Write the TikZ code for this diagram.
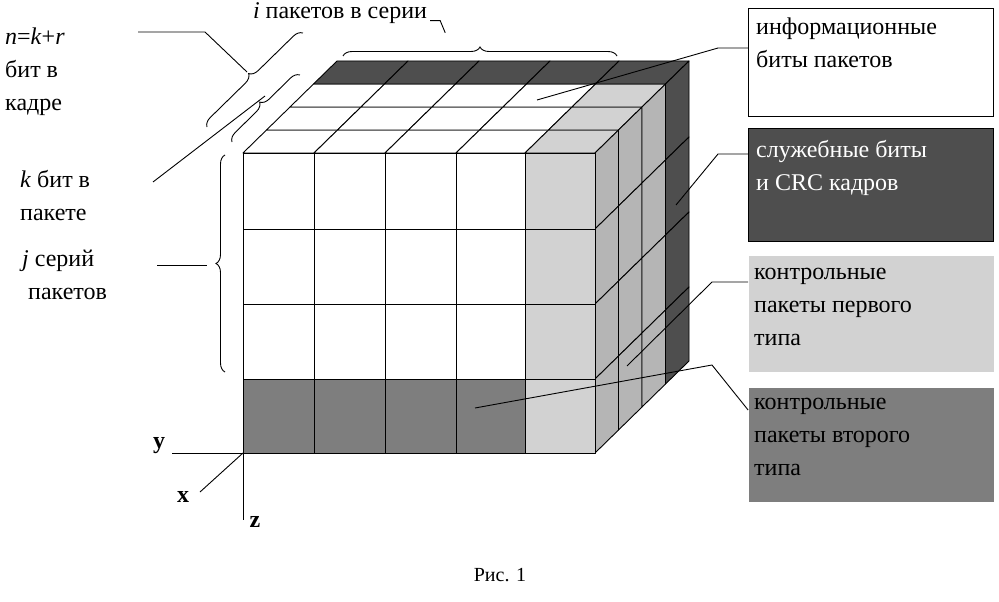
\documentclass[tikz,border=0pt]{standalone}
\usepackage{fontspec}
\setmainfont{Liberation Serif}
\usetikzlibrary{decorations.pathreplacing}
\definecolor{lg}{HTML}{D2D2D2}
\definecolor{mg}{HTML}{B5B5B5}
\definecolor{dg}{HTML}{4E4E4E}
\definecolor{bg}{HTML}{7E7E7E}
\tikzset{
  cell/.style={draw=black,line width=0.9pt,line join=round},
  lead/.style={draw=black,line width=0.9pt},
  legbox/.style={draw=black,line width=0.8pt,minimum width=245pt,minimum height=108pt,inner sep=0pt},
  legtxt/.style={font=\fontsize{24}{33}\selectfont,align=left,anchor=north west,inner sep=0pt},
  lbl/.style={font=\fontsize{24}{33}\selectfont,align=left,anchor=north west,inner sep=0pt},
  brc/.style={decorate,decoration={brace,amplitude=9pt},line width=0.9pt},
}
\begin{document}
\begin{tikzpicture}[x=1pt,y=-1pt]
\useasboundingbox (0,0) rectangle (999,602);
\def\dx{23.5}\def\dy{-23}
% top face
\foreach \l in {0,1,2,3}{
 \foreach \c/\xa/\xb in {0/243/314,1/314/385,2/385/456,3/456/525,4/525/595}{
  \pgfmathsetmacro\ox{\l*\dx}\pgfmathsetmacro\oy{\l*\dy}
  \pgfmathsetmacro\px{(\l+1)*\dx}\pgfmathsetmacro\py{(\l+1)*\dy}
  \ifnum\l=3 \def\fc{dg}\else\ifnum\c=4 \def\fc{lg}\else\def\fc{white}\fi\fi
  \filldraw[cell,fill=\fc] (\xa+\ox,153+\oy) -- (\xb+\ox,153+\oy) -- (\xb+\px,153+\py) -- (\xa+\px,153+\py) -- cycle;
 }}
% right face
\foreach \l in {0,1,2,3}{
 \foreach \ya/\yb in {153/229,229/304,304/379,379/453}{
  \pgfmathsetmacro\ox{\l*\dx}\pgfmathsetmacro\oy{\l*\dy}
  \pgfmathsetmacro\px{(\l+1)*\dx}\pgfmathsetmacro\py{(\l+1)*\dy}
  \ifnum\l=3 \def\fc{dg}\else\def\fc{mg}\fi
  \filldraw[cell,fill=\fc] (595+\ox,\ya+\oy) -- (595+\px,\ya+\py) -- (595+\px,\yb+\py) -- (595+\ox,\yb+\oy) -- cycle;
 }}
% front face
\foreach \c/\xa/\xb in {0/243/314,1/314/385,2/385/456,3/456/525,4/525/595}{
 \foreach \r/\ya/\yb in {0/153/229,1/229/304,2/304/379,3/379/453}{
  \ifnum\c=4 \def\fc{lg}\else\ifnum\r=3 \def\fc{bg}\else\def\fc{white}\fi\fi
  \filldraw[cell,fill=\fc] (\xa,\ya) rectangle (\xb,\yb);
 }}
% axes
\coordinate (O) at (243,453);
\node[font=\fontsize{24}{28}\selectfont\bfseries,inner sep=0pt] (ay) at (159,446) {y};
\node[font=\fontsize{24}{28}\selectfont\bfseries,inner sep=0pt] (ax) at (183,497) {x};
\node[font=\fontsize{24}{28}\selectfont\bfseries,inner sep=0pt] (az) at (255,522) {z};
\draw[lead] (O) -- (172,453);
\draw[lead] (O) -- (200,492);
\draw[lead] (O) -- (243,520);
% legend
\node[legbox,fill=white] (b1) at (871,62) {};
\node[legbox,fill=dg,minimum height=113pt] (b2) at (871,185) {};
\node[legbox,fill=lg,draw=none,minimum height=116pt] (b3) at (871,314) {};
\node[legbox,fill=bg,draw=none,minimum height=114pt] (b4) at (871,445) {};
\node[legtxt] (t1) at (756,18) {информационные\\биты пакетов};
\node[legtxt,text=white] (t2) at (756,140) {служебные биты\\и CRC кадров};
\node[legtxt] (t3) at (754,268) {контрольные\\пакеты первого\\типа};
\node[legtxt] (t4) at (754,398) {контрольные\\пакеты второго\\типа};
% leaders
\coordinate (p1) at (537,100); \coordinate (p2) at (676,205);
\coordinate (p3) at (627,366); \coordinate (p4) at (475,408);
\draw[lead] (p1) -- (718,48) -- (b1.west|-0,48);
\draw[lead] (p2) -- (718,154) -- (b2.west|-0,154);
\draw[lead] (p3) -- (712,282) -- (b3.west|-0,282);
\draw[lead] (p4) -- (712,365) -- (b4.west|-0,410);
% left labels
\node[lbl] (n1) at (5,28) {\textit{n}=\textit{k}+\textit{r}\\бит в\\кадре};
\node[lbl] (n2) at (20,170) {\textit{k} бит в\\пакете};
\node[lbl] (n3) at (22,250) {\textit{j} серий\\\ пакетов};
\node[lbl,anchor=north] (n4) at (340,2) {\textit{i} пакетов в серии};
% braces
\draw[brc] (343,56) -- (617,56) coordinate[midway,yshift=-12pt] (btop);
\draw[lead] (n4.east) ++(3,8) coordinate (h1) -- ++(10,0) -- ++(5,12);
\draw[brc] (207,127) -- (303,33);
\draw[lead] (138,32) -- (205,32) -- (247,72);
\draw[brc] (232,142) -- (300,75);
\draw[lead] (153,182) -- (265,96);
\draw[brc] (225,372) -- (225,155);
\draw[lead] (157,265) -- (207,265);
% caption
\node[font=\fontsize{20}{24}\selectfont] (cap) at (500,575) {Рис. 1};
\end{tikzpicture}
\end{document}
